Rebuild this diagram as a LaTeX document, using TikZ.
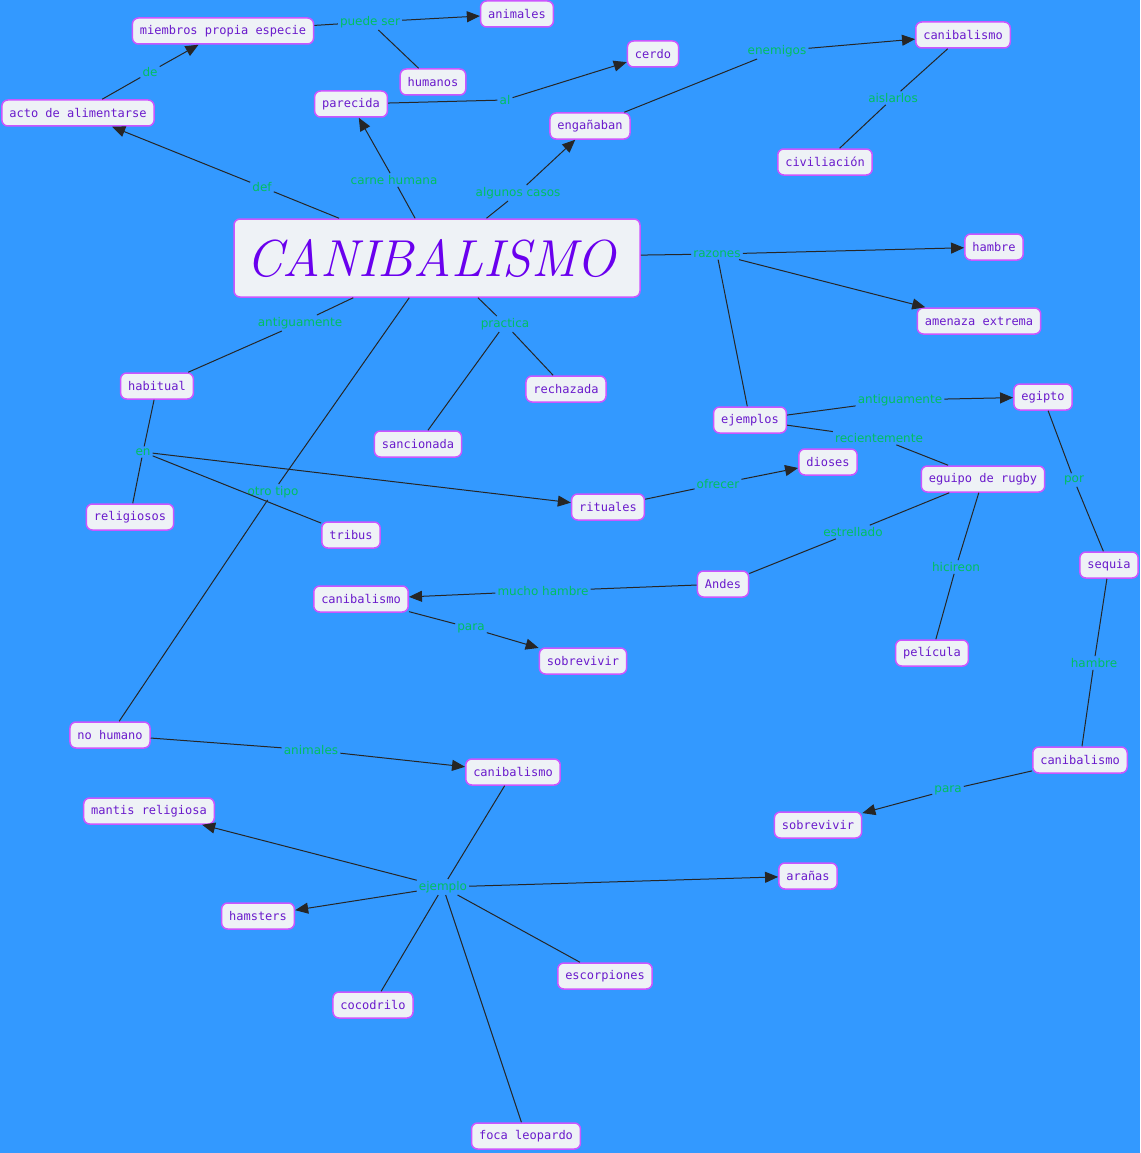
\documentclass[tikz,border=0pt]{standalone}
\usepackage{fontspec}
\setmainfont{DejaVu Sans}
\newfontfamily\monofnt{DejaVu Sans Mono}
\newfontfamily\titlefnt{Latin Modern Roman}
\usetikzlibrary{arrows.meta}
\definecolor{bg}{HTML}{3399FF}
\definecolor{boxfill}{HTML}{EEF2F6}
\definecolor{boxline}{HTML}{CC55FF}
\definecolor{boxtext}{HTML}{6A1ACC}
\definecolor{lbl}{HTML}{00C060}
\definecolor{titletext}{HTML}{6A00EE}
\begin{document}
\begin{tikzpicture}[x=1pt,y=-1pt,
 concept/.style={draw=boxline, fill=boxfill, rounded corners=6pt, line width=1.5pt, text=boxtext,
   font=\monofnt\fontsize{12}{14}\selectfont, inner xsep=7.5pt, inner ysep=0pt, minimum height=26pt},
 link/.style={text=lbl, font=\fontsize{12}{14}\selectfont, inner sep=2pt},
 conn/.style={draw=black!85, line width=1pt},
 arr/.style={conn, -{Triangle[length=13pt,width=11pt]}},
]
\fill[bg] (0,0) rectangle (1140,1153);

% concepts
\node[concept] (acto) at (78,113) {acto de alimentarse};
\node[concept] (miembros) at (223,31) {miembros propia especie};
\node[concept] (animalesT) at (517,14) {animales};
\node[concept] (humanos) at (433,82) {humanos};
\node[concept] (parecida) at (351,104) {parecida};
\node[concept] (cerdo) at (653,54) {cerdo};
\node[concept] (enganaban) at (590,126) {engañaban};
\node[concept] (canTR) at (963,35) {canibalismo};
\node[concept] (civil) at (825,162) {civiliación};
\node[concept, minimum width=406pt, minimum height=78pt, text=titletext,
  font=\titlefnt\itshape\fontsize{52}{60}\selectfont] (main) at (437,258) {CANIBALISMO\hspace*{12pt}};
\node[concept] (hambre) at (994,247) {hambre};
\node[concept] (amenaza) at (979,321) {amenaza extrema};
\node[concept] (habitual) at (157,386) {habitual};
\node[concept] (rechazada) at (566,389) {rechazada};
\node[concept] (sancionada) at (418,444) {sancionada};
\node[concept] (ejemplos) at (750,420) {ejemplos};
\node[concept] (egipto) at (1043,397) {egipto};
\node[concept] (dioses) at (828,462) {dioses};
\node[concept] (rugby) at (983,479) {eguipo de rugby};
\node[concept] (religiosos) at (130,517) {religiosos};
\node[concept] (tribus) at (351,535) {tribus};
\node[concept] (rituales) at (608,507) {rituales};
\node[concept] (andes) at (723,584) {Andes};
\node[concept] (canM) at (361,599) {canibalismo};
\node[concept] (sobreM) at (583,661) {sobrevivir};
\node[concept] (pelicula) at (932,653) {película};
\node[concept] (sequia) at (1109,565) {sequia};
\node[concept] (nohumano) at (110,735) {no humano};
\node[concept] (canL) at (513,772) {canibalismo};
\node[concept] (canR) at (1080,760) {canibalismo};
\node[concept] (sobreR) at (818,825) {sobrevivir};
\node[concept] (mantis) at (149,811) {mantis religiosa};
\node[concept] (aranas) at (808,876) {arañas};
\node[concept] (hamsters) at (258,916) {hamsters};
\node[concept] (escorpiones) at (605,976) {escorpiones};
\node[concept] (cocodrilo) at (373,1005) {cocodrilo};
\node[concept] (foca) at (526,1136) {foca leopardo};

% linking phrases
\node[link] (lde) at (150,72) {de};
\node[link] (lpuede) at (370,22) {puede ser};
\node[link] (lal) at (505,100) {al};
\node[link] (lenemigos) at (777,51) {enemigos};
\node[link] (laislar) at (893,98) {aislarlos};
\node[link] (ldef) at (262,187) {def};
\node[link] (lcarne) at (394,180) {carne humana};
\node[link] (lalgunos) at (518,193) {algunos casos};
\node[link] (lrazones) at (717,254) {razones};
\node[link] (lantL) at (300,323) {antiguamente};
\node[link] (lpractica) at (505,324) {practica};
\node[link] (len) at (143,452) {en};
\node[link] (lotro) at (273,492) {otro tipo};
\node[link] (lantR) at (900,400) {antiguamente};
\node[link] (lrecien) at (879,438) {recientemente};
\node[link] (lofrecer) at (718,484) {ofrecer};
\node[link] (lpor) at (1074,480) {por};
\node[link] (lestrell) at (853,532) {estrellado};
\node[link] (lhicir) at (956,567) {hicireon};
\node[link] (lmucho) at (543,591) {mucho hambre};
\node[link] (lparaM) at (471,628) {para};
\node[link] (lhambreR) at (1094,663) {hambre};
\node[link] (lparaR) at (948,790) {para};
\node[link] (lanimales) at (311,750) {animales};
\node[link] (lejemplo) at (443,887) {ejemplo};

% connectors
\draw[conn] (acto) -- (lde);  \draw[arr] (lde) -- (miembros);
\draw[conn] (miembros) -- (lpuede); \draw[arr] (lpuede) -- (animalesT);
\draw[conn] (lpuede) -- (humanos);
\draw[conn] (main) -- (ldef); \draw[arr] (ldef) -- (acto);
\draw[conn] (main) -- (lcarne); \draw[arr] (lcarne) -- (parecida);
\draw[conn] (parecida) -- (lal); \draw[arr] (lal) -- (cerdo);
\draw[conn] (main) -- (lalgunos); \draw[arr] (lalgunos) -- (enganaban);
\draw[conn] (enganaban) -- (lenemigos); \draw[arr] (lenemigos) -- (canTR);
\draw[conn] (civil) -- (laislar); \draw[conn] (laislar) -- (canTR);
\draw[conn] (main) -- (lrazones);
\draw[arr] (lrazones) -- (hambre);
\draw[arr] (lrazones) -- (amenaza);
\draw[conn] (lrazones) -- (ejemplos);
\draw[conn] (main) -- (lantL); \draw[conn] (lantL) -- (habitual);
\draw[conn] (main) -- (lpractica); \draw[conn] (lpractica) -- (rechazada);
\draw[conn] (lpractica) -- (sancionada);
\draw[conn] (main) -- (lotro); \draw[conn] (lotro) -- (nohumano);
\draw[conn] (habitual) -- (len); \draw[conn] (len) -- (religiosos);
\draw[arr] (len) -- (rituales); \draw[conn] (len) -- (tribus);
\draw[conn] (rituales) -- (lofrecer); \draw[arr] (lofrecer) -- (dioses);
\draw[conn] (ejemplos) -- (lantR); \draw[arr] (lantR) -- (egipto);
\draw[conn] (ejemplos) -- (lrecien); \draw[conn] (lrecien) -- (rugby);
\draw[conn] (egipto) -- (lpor); \draw[conn] (lpor) -- (sequia);
\draw[conn] (sequia) -- (lhambreR); \draw[conn] (lhambreR) -- (canR);
\draw[conn] (canR) -- (lparaR); \draw[arr] (lparaR) -- (sobreR);
\draw[conn] (rugby) -- (lestrell); \draw[conn] (lestrell) -- (andes);
\draw[conn] (rugby) -- (lhicir); \draw[conn] (lhicir) -- (pelicula);
\draw[conn] (andes) -- (lmucho); \draw[arr] (lmucho) -- (canM);
\draw[conn] (canM) -- (lparaM); \draw[arr] (lparaM) -- (sobreM);
\draw[conn] (nohumano) -- (lanimales); \draw[arr] (lanimales) -- (canL);
\draw[conn] (canL) -- (lejemplo);
\draw[arr] (lejemplo) -- (mantis);
\draw[arr] (lejemplo) -- (aranas);
\draw[arr] (lejemplo) -- (hamsters);
\draw[conn] (lejemplo) -- (escorpiones);
\draw[conn] (lejemplo) -- (cocodrilo);
\draw[conn] (lejemplo) -- (foca);
\end{tikzpicture}
\end{document}
